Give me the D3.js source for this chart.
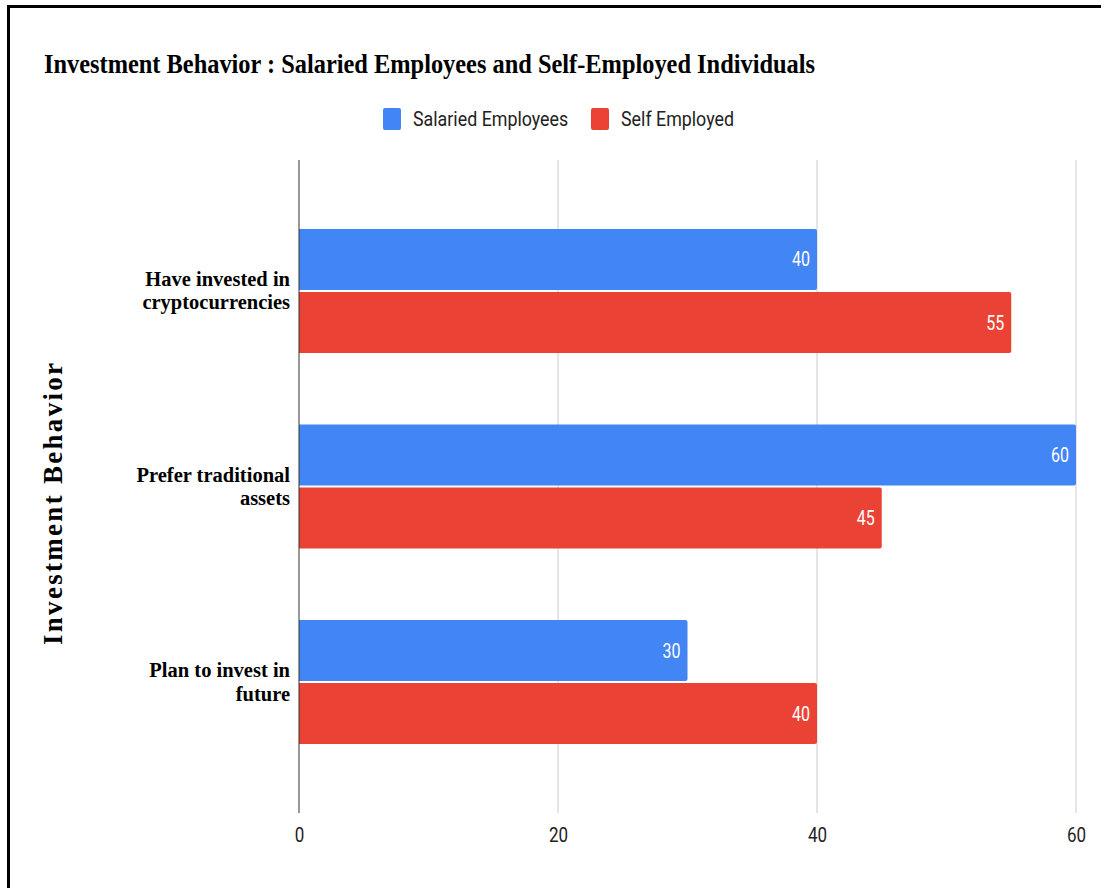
<!DOCTYPE html>
<html><head><meta charset="utf-8">
<script src="https://cdn.jsdelivr.net/npm/d3@7"></script>
<style>body{margin:0;background:#fff;} svg{display:block;}</style>
</head><body>
<svg id="c" width="1101" height="888"></svg>
<script>
const categories = [["Have invested in","cryptocurrencies"],["Prefer traditional","assets"],["Plan to invest in","future"]];
const categoryKeys = ["Have invested in cryptocurrencies","Prefer traditional assets","Plan to invest in future"];
const seriesNames = ["Salaried Employees","Self Employed"];
const salaried = [40,60,30];
const selfEmployed = [55,45,40];
const xTicks = [0,20,40,60];
const colors = ["#4285F4","#EA4335"];

const svg = d3.select("#c");
svg.append("rect").attr("x",8.5).attr("y",6.5).attr("width",1100).attr("height",890)
  .attr("fill","none").attr("stroke","#000").attr("stroke-width",3);

svg.append("text").attr("x",44).attr("y",73)
  .attr("font-family","Liberation Serif, serif").attr("font-weight","bold").attr("font-size",27)
  .attr("textLength",771).attr("lengthAdjust","spacingAndGlyphs")
  .attr("fill","#000").text("Investment Behavior : Salaried Employees and Self-Employed Individuals");

const x = d3.scaleLinear().domain([0,60]).range([299,1076]);
const y = d3.scaleBand().domain(categoryKeys).range([160,813]).paddingInner(0.366).paddingOuter(0.353);
const ySub = d3.scaleBand().domain(seriesNames).range([0,y.bandwidth()]).paddingInner(0.033);

// grid
svg.append("g").selectAll("line").data(xTicks.filter(d=>d!==0)).join("line")
  .attr("x1",d=>x(d)).attr("x2",d=>x(d)).attr("y1",160).attr("y2",813)
  .attr("stroke","#cccccc").attr("stroke-width",1);

// x axis labels
const xAxis = d3.axisBottom(x).tickValues(xTicks).tickSize(0).tickPadding(0);
const gx = svg.append("g").attr("transform","translate(0,835)").call(xAxis);
gx.select(".domain").remove();
gx.selectAll(".tick text").attr("font-family","Roboto, sans-serif").attr("font-size",20).attr("fill","#222")
  .attr("y",0).attr("dy","0.35em").attr("transform","scale(0.85,1)");

// bars
const data = [];
categoryKeys.forEach((c,i)=>{
  data.push({c, s:seriesNames[0], v:salaried[i], col:colors[0]});
  data.push({c, s:seriesNames[1], v:selfEmployed[i], col:colors[1]});
});
const g = svg.append("g");
g.selectAll("path").data(data).join("path")
  .attr("fill",d=>d.col)
  .attr("d",d=>{
    const x0=x(0), x1=x(d.v), y0=y(d.c)+ySub(d.s), h=ySub.bandwidth(), r=2;
    return `M${x0},${y0}H${x1-r}Q${x1},${y0} ${x1},${y0+r}V${y0+h-r}Q${x1},${y0+h} ${x1-r},${y0+h}H${x0}Z`;
  });
g.selectAll("text").data(data).join("text")
  .attr("transform",d=>`translate(${x(d.v)-7},${y(d.c)+ySub(d.s)+ySub.bandwidth()/2}) scale(0.8,1)`)
  .attr("dy","0.35em").attr("text-anchor","end")
  .attr("font-family","Roboto, sans-serif").attr("font-size",20).attr("fill","#fff")
  .text(d=>d.v);

// y axis line
svg.append("line").attr("x1",x(0)).attr("x2",x(0)).attr("y1",160).attr("y2",813)
  .attr("stroke","#333").attr("stroke-width",1);

// y category labels (one text per category, two lines)
const yl = svg.append("g");
categoryKeys.forEach((c,i)=>{
  const cy = y(c)+y.bandwidth()/2;
  const t = yl.append("text").attr("text-anchor","end")
    .attr("transform",`translate(290,${cy-5})`)
    .attr("font-family","Liberation Serif, serif").attr("font-weight","bold").attr("font-size",20.5).attr("fill","#000");
  categories[i].forEach((line,j)=>{
    t.append("tspan").attr("x",0).attr("y",j*23.5).text(line);
  });
});

// y title
svg.append("text").attr("transform","translate(62,504) rotate(-90)").attr("text-anchor","middle")
  .attr("font-family","Liberation Serif, serif").attr("font-weight","bold")
  .attr("font-size",27).attr("textLength",282).attr("lengthAdjust","spacing").attr("fill","#000").text("Investment Behavior");

// legend
const lg = svg.append("g");
const legX = [383,591];
seriesNames.forEach((s,i)=>{
  lg.append("rect").attr("x",legX[i]).attr("y",108).attr("width",18).attr("height",22).attr("rx",2).attr("fill",colors[i]);
  lg.append("text").attr("transform",`translate(${legX[i]+30},119) scale(0.85,1)`).attr("dy","0.35em")
    .attr("font-family","Roboto, sans-serif").attr("font-size",21).attr("fill","#222").text(s);
});
</script>
</body></html>
